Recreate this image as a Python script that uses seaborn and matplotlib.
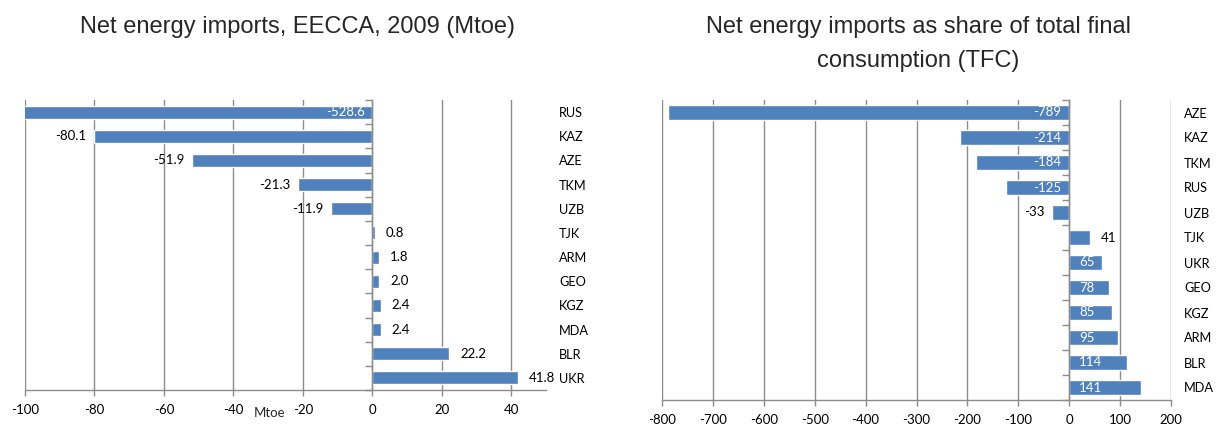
import numpy as np
import matplotlib
matplotlib.use("Agg")
import matplotlib.pyplot as plt
import seaborn as sns

# Net energy imports, Mtoe (2009)
mtoe_countries = ["RUS", "KAZ", "AZE", "TKM", "UZB", "TJK", "ARM", "GEO", "KGZ", "MDA", "BLR", "UKR"]
mtoe_values = [-528.6, -80.1, -51.9, -21.3, -11.9, 0.8, 1.8, 2.0, 2.4, 2.4, 22.2, 41.8]
mtoe_ticks = [-100, -80, -60, -40, -20, 0, 20, 40]

# Net energy imports as share of total final consumption
tfc_countries = ["AZE", "KAZ", "TKM", "RUS", "UZB", "TJK", "UKR", "GEO", "KGZ", "ARM", "BLR", "MDA"]
tfc_values = [-789, -214, -184, -125, -33, 41, 65, 78, 85, 95, 114, 141]
tfc_ticks = [-800, -700, -600, -500, -400, -300, -200, -100, 0, 100, 200]

sns.set_theme(style="white")
plt.rcParams["font.family"] = ["Lato", "DejaVu Sans"]

BAR = "#4F81BD"
GRID = "#8C8C8C"
W, H = 1219, 424
PX = 72 / 100  # points per pixel at 100 dpi

fig = plt.figure(figsize=(W / 100, H / 100), dpi=100)
ax1 = fig.add_axes([25 / W, 1 - 390 / H, 521 / W, 290 / H])
ax2 = fig.add_axes([662 / W, 1 - 400 / H, 509 / W, 300 / H])


def style_axes(ax, cats, ticks, xlim):
    ax.set_xlim(*xlim)
    ax.set_ylim(len(cats) - 0.5, -0.5)
    ax.set_xticks(ticks)
    ax.set_xticklabels([str(t) for t in ticks], fontsize=9.5)
    ax.grid(axis="x", color=GRID, linewidth=1.0)
    ax.grid(axis="y", visible=False)
    ax.set_axisbelow(True)
    for s in ("top", "right"):
        ax.spines[s].set_visible(False)
    ax.spines["bottom"].set_color(GRID)
    ax.spines["bottom"].set_linewidth(1.0)
    ax.spines["left"].set_position(("data", 0))
    ax.spines["left"].set_color(GRID)
    ax.spines["left"].set_linewidth(1.0)
    ax.tick_params(axis="x", which="major", bottom=True, length=4, width=1,
                   color=GRID, direction="out", pad=6, labelcolor="black")
    ax.set_yticks(range(len(cats)))
    ax.set_yticklabels(cats, fontsize=9.2)
    ax.set_yticks(np.arange(-0.5, len(cats), 1.0), minor=True)
    ax.tick_params(axis="y", which="major", left=False, right=False, length=0,
                   labelleft=False, labelright=True, pad=13 * PX, labelcolor="black")
    ax.tick_params(axis="y", which="minor", left=True, right=False,
                   length=5, width=1, color=GRID, direction="out")
    ax.set_ylabel("")


# Left panel: absolute net imports
sns.barplot(x=mtoe_values, y=mtoe_countries, order=mtoe_countries, orient="h",
            color=BAR, saturation=1, width=0.54, ax=ax1)
style_axes(ax1, mtoe_countries, mtoe_ticks, (-100, 50))
ax1.set_xlabel("Mtoe", fontsize=9.5)
ax1.xaxis.set_label_coords((270 - 25) / 521, -0.058)

lo, hi = ax1.get_xlim()
for i, v in enumerate(mtoe_values):
    txt = f"{v:.1f}"
    if v < lo:
        # bar runs past the axis limit: label sits inside, near the base
        ax1.annotate(txt, (0, i), xytext=(-7 * PX, 0), textcoords="offset points",
                     ha="right", va="center", color="white", fontsize=9.5)
    elif v < 0:
        ax1.annotate(txt, (v, i), xytext=(-8 * PX, 0), textcoords="offset points",
                     ha="right", va="center", color="black", fontsize=9.5)
    else:
        ax1.annotate(txt, (v, i), xytext=(11 * PX, 0), textcoords="offset points",
                     ha="left", va="center", color="black", fontsize=9.5)

# Right panel: share of total final consumption
sns.barplot(x=tfc_values, y=tfc_countries, order=tfc_countries, orient="h",
            color=BAR, saturation=1, width=0.6, ax=ax2)
style_axes(ax2, tfc_countries, tfc_ticks, (-800, 200))
ax2.set_xlabel("")

span = 1000 / 509  # data units per pixel
for i, v in enumerate(tfc_values):
    txt = f"{v:.0f}"
    bar_px = abs(v) / span
    if bar_px >= 30:
        if v < 0:
            ax2.annotate(txt, (0, i), xytext=(-8 * PX, 0), textcoords="offset points",
                         ha="right", va="center", color="white", fontsize=9.5)
        else:
            ax2.annotate(txt, (0, i), xytext=(10 * PX, 0), textcoords="offset points",
                         ha="left", va="center", color="white", fontsize=9.5)
    else:
        if v < 0:
            ax2.annotate(txt, (v, i), xytext=(-8 * PX, 0), textcoords="offset points",
                         ha="right", va="center", color="black", fontsize=9.5)
        else:
            ax2.annotate(txt, (v, i), xytext=(11 * PX, 0), textcoords="offset points",
                         ha="left", va="center", color="black", fontsize=9.5)

title_font = ["Liberation Sans", "DejaVu Sans"]
fig.text(297 / W, 1 - 33 / H, "Net energy imports, EECCA, 2009 (Mtoe)",
         ha="center", va="baseline", fontsize=17, family=title_font)
fig.text(918 / W, 1 - 33 / H, "Net energy imports as share of total final",
         ha="center", va="baseline", fontsize=17, family=title_font)
fig.text(918 / W, 1 - 67 / H, "consumption (TFC)",
         ha="center", va="baseline", fontsize=17, family=title_font)

fig.savefig("out.png", dpi=100)
